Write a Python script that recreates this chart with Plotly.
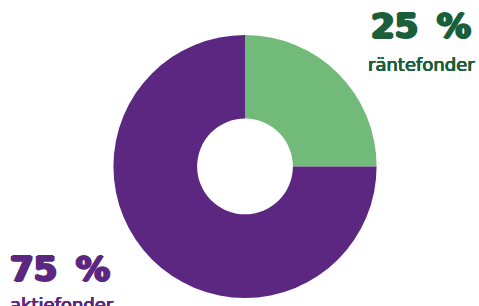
import plotly.graph_objects as go

labels = ["räntefonder", "aktiefonder"]
values = [25, 75]
colors = ["#72BA7A", "#5C2780"]
pct_text = ["25\u00a0\u2009%", "75\u00a0\u2009%"]

fig = go.Figure(go.Pie(
    labels=labels, values=values, hole=0.364, sort=False, direction="clockwise",
    rotation=0, marker=dict(colors=colors, line=dict(width=0)),
    textinfo="none", hoverinfo="label+percent", showlegend=False,
    domain=dict(x=[0.236, 0.787], y=[0.026, 0.886]),
))

big = "DejaVu Sans"
small = "DejaVu Sans"
g, p = "#1B5E3A", "#5C2780"

def thick(c, w=1, h=1):
    return f"{h}px 0 0 {c}, -{h}px 0 0 {c}, 0 {w}px 0 {c}, 0 -{w}px 0 {c}"

fig.add_annotation(x=473/479, y=1 - 4/306, xref="paper", yref="paper", xanchor="right", yanchor="top",
                   text=pct_text[0], showarrow=False,
                   font=dict(family=big, size=34, color=g, weight=700, shadow=thick(g, 0.8, 1.4)))
fig.add_annotation(x=477/479, y=1 - 52/306, xref="paper", yref="paper", xanchor="right", yanchor="top",
                   text=labels[0], showarrow=False,
                   font=dict(family=small, size=18, color=g, weight=400, shadow=thick(g, 0.3, 0.4)))
fig.add_annotation(x=8/479, y=1 - 247/306, xref="paper", yref="paper", xanchor="left", yanchor="top",
                   text=pct_text[1], showarrow=False,
                   font=dict(family=big, size=34, color=p, weight=700, shadow=thick(p, 0.8, 1.4)))
fig.add_annotation(x=8/479, y=1 - 292/306, xref="paper", yref="paper", xanchor="left", yanchor="top",
                   text=labels[1], showarrow=False,
                   font=dict(family=small, size=18, color=p, weight=400, shadow=thick(p, 0.3, 0.4)))

fig.update_layout(width=479, height=306, margin=dict(l=0, r=0, t=0, b=0),
                  paper_bgcolor="white", plot_bgcolor="white")
fig.write_html("out.html", config={"displayModeBar": False},
               post_script="document.body.style.margin='0';")
